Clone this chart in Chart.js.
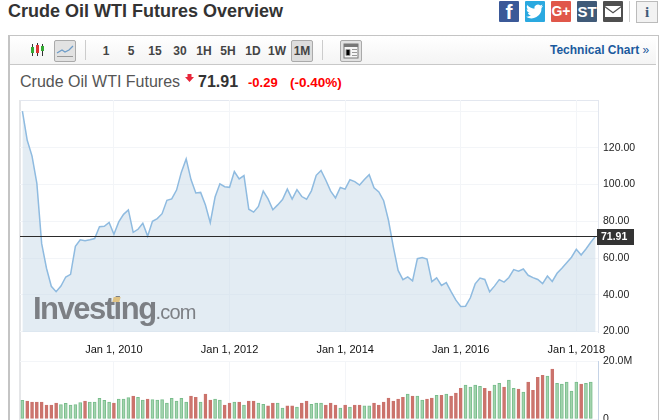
<!DOCTYPE html>
<html>
<head>
<meta charset="utf-8">
<script src="https://cdn.jsdelivr.net/npm/chart.js@4"></script>
<style>
html,body{margin:0;padding:0;background:#fff;width:665px;height:420px;overflow:hidden;font-family:"Liberation Sans",Arial,sans-serif}
.abs,canvas{position:absolute}
.soc{position:absolute;top:1px;width:20px;height:21px;color:#fff;font-weight:bold;text-align:center;line-height:21px;border-radius:1px}
.tf{position:absolute;top:44px;width:24px;text-align:center;font:bold 12px "Liberation Sans";color:#444;line-height:14px}
.btn{position:absolute;top:40px;width:20px;height:20px;border:1px solid #aaa;border-radius:2px;background:#e2e2e2}
</style>
</head>
<body>
<div class="abs" style="left:8px;top:1px;font:bold 18px 'Liberation Sans';color:#333;line-height:20px;white-space:nowrap">Crude Oil WTI Futures Overview</div>

<div class="soc" style="left:499px;background:#3b5998;font-size:21px">f</div>
<div class="soc" style="left:525px;background:#2aa9e0">
  <svg width="20" height="21" viewBox="0 0 20 21"><path fill="#fff" d="M18 5c-.7.3-1.300.5-2 .6.700-.5 1.300-1.100 1.500-2-.7.4-1.400.700-2.200.9A3.500 3.500 0 0 0 9.400 7.700C6.500 7.500 4 6.100 2.300 4c-1 1.600-.5 3.600 1 4.700-.6 0-1.100-.2-1.600-.4 0 1.700 1.200 3.100 2.800 3.500-.5.100-1 .2-1.600.1.400 1.400 1.700 2.400 3.200 2.400A7 7 0 0 1 1 15.700 10 10 0 0 0 16.500 7c.6-.5 1.100-1.200 1.500-2z"/></svg>
</div>
<div class="soc" style="left:551px;background:#e0574a;font-size:14px">G+</div>
<div class="soc" style="left:577px;background:#405a78;font-size:15px">ST</div>
<div class="soc" style="left:603px;background:#4f4f4f">
  <svg width="20" height="21" viewBox="0 0 20 21"><path fill="#fff" d="M2 5h16L10 11z"/><path fill="#fff" d="M2 6.500V16h16V6.500l-8 6z"/></svg>
</div>
<div class="abs" style="left:629px;top:1px;width:1px;height:21px;background:#ccc"></div>
<div class="abs" style="left:636px;top:1px;width:20px;height:20px;border:1px solid #bbb;background:#f2f2f2;text-align:center;font:bold 15px/20px 'Liberation Serif';color:#405a78">i</div>

<div class="abs" style="left:8px;top:35px;width:648px;height:400px;border:1px solid #c4c4c4;border-left-width:2px"></div>
<div class="abs" style="left:10px;top:36px;width:646px;height:28px;background:linear-gradient(#fff,#f4f4f4);border-bottom:1px solid #c8c8c8"></div>

<svg class="abs" style="left:30px;top:43px" width="16" height="14">
  <path stroke="#333" d="M2.500 1v12M7.500 0v13M12.500 1v12"/>
  <rect x="1" y="4" width="3" height="6" fill="#3a3"/><rect x="6" y="2" width="3" height="8" fill="#d33"/><rect x="11" y="3" width="3" height="5" fill="#3a3"/>
</svg>
<div class="btn" style="left:54px">
  <svg width="20" height="20"><path fill="none" stroke="#6d9cc8" stroke-width="1.300" d="M2 12l5-3 3 2 4-2 4-4"/><path stroke="#999" d="M2 15.500h16"/></svg>
</div>
<div class="abs" style="left:85px;top:40px;width:1px;height:20px;background:#ccc"></div>
<div class="tf" style="left:94px">1</div>
<div class="tf" style="left:119px">5</div>
<div class="tf" style="left:143px">15</div>
<div class="tf" style="left:168px">30</div>
<div class="tf" style="left:192px">1H</div>
<div class="tf" style="left:216px">5H</div>
<div class="tf" style="left:241px">1D</div>
<div class="tf" style="left:265px">1W</div>
<div class="btn" style="left:291px;background:#ddd"></div>
<div class="tf" style="left:290px">1M</div>
<div class="abs" style="left:322px;top:40px;width:1px;height:20px;background:#ccc"></div>
<div class="btn" style="left:340px">
  <svg width="20" height="20"><rect x="3" y="3" width="14" height="14" fill="#f6f6f6" stroke="#777"/><path fill="#777" d="M3 3h14v3H3z"/><path stroke="#999" d="M5 8.500h4v6H5zM11 8.500h5M11 11.500h5M11 14.500h5"/></svg>
</div>
<div class="abs" style="left:550px;top:43px;font:bold 12px/14px 'Liberation Sans';color:#1b5a9e;white-space:nowrap">Technical Chart <span style="font-weight:normal">»</span></div>

<div class="abs" style="left:20px;top:73px;font:16px/18px 'Liberation Sans';color:#555;white-space:nowrap">Crude Oil WTI Futures</div>
<svg class="abs" style="left:185px;top:74px" width="9" height="8"><path fill="#e8263a" d="M2.500 0h4v3H9L4.500 8 0 3h2.500z"/></svg>
<div class="abs" style="left:198px;top:73px;font:bold 16px/18px 'Liberation Sans';color:#333">71.91</div>
<div class="abs" style="left:248px;top:75px;font:bold 13px/16px 'Liberation Sans';color:#f00">-0.29</div>
<div class="abs" style="left:290px;top:75px;font:bold 13.500px/16px 'Liberation Sans';color:#f00">(-0.40%)</div>

<div class="abs" style="left:19px;top:100px;width:2px;height:320px;background:#e5e6e8"></div>
<div class="abs" style="left:20px;top:100px;width:578px;height:1px;background:#e3e7ef"></div>

<canvas id="priceChart" width="665" height="270" style="left:0;top:90px"></canvas>
<canvas id="volumeChart" width="665" height="70" style="left:0;top:350px"></canvas>

<div class="abs" style="left:33px;top:291px;font:bold 31px/36px 'Liberation Sans';letter-spacing:-1.500px;color:#7c7f84;white-space:nowrap">Investing<span style="font:20px 'Liberation Sans';letter-spacing:-.8px">.com</span></div>
<div class="abs" style="left:113px;top:297px;width:7px;height:5px;background:#dfc283;transform:skewX(-15deg)"></div>

<script>
// monthly closes, Jun 2008 to May 2018
const prices = [
    140.0,124.08,115.46,100.64,67.81,54.43,44.6,
    41.68,44.76,49.66,51.12,66.31,69.89,69.45,69.96,70.61,77.0,77.28,79.36,
    72.89,79.66,83.76,86.15,73.97,75.63,78.95,71.92,79.97,81.43,84.11,91.38,
    92.19,96.97,106.72,113.93,102.7,95.42,95.7,88.81,79.2,93.19,100.36,98.83,
    98.48,107.07,103.02,104.87,86.53,84.96,88.06,96.47,92.19,86.24,88.91,91.82,
    97.49,92.05,97.23,93.46,91.97,96.56,105.03,107.65,102.33,96.38,92.72,98.42,
    97.49,102.59,101.58,99.74,102.71,105.37,98.17,95.96,91.16,80.54,66.15,53.27,
    48.24,49.76,47.6,59.63,60.3,59.47,47.12,49.2,45.09,46.59,41.65,37.04,
    33.62,33.75,38.34,45.92,49.1,48.33,41.6,44.7,48.24,46.86,49.44,53.72,
    52.81,54.01,50.6,49.33,48.32,46.04,50.17,47.23,51.67,54.38,57.4,60.42,
    64.73,61.64,64.94,68.57,71.91
];
// volume in millions
const volumes = [
    6.4,6.2,5.8,5.8,5.8,4.8,4.8,5.5,5.0,5.4,4.8,5.0,5.7,6.2,5.8,5.8,7.1,6.4,5.8,5.5,6.9,6.9,7.4,7.9,7.5,6.5,6.9,
    6.7,6.5,6.7,5.5,7.1,6.2,7.1,5.8,7.9,7.5,5.8,8.6,6.5,6.9,6.5,4.8,5.5,5.8,5.8,4.8,6.2,6.2,5.5,5.1,4.5,5.5,5.5,3.8,4.5,4.5,4.1,
    5.5,6.2,5.1,5.5,5.5,4.8,5.5,4.8,3.8,4.8,4.1,4.8,4.8,4.5,4.5,5.5,4.8,5.8,7.2,6.2,6.9,7.5,8.6,7.9,7.9,6.5,6.9,7.2,8.2,8.2,8.6,
    7.9,8.9,10.6,11.7,11.0,11.7,11.3,10.6,9.6,11.7,12.3,11.0,13.4,10.6,10.3,9.3,12.7,9.9,14.4,15.1,14.8,17.2,12.3,12.0,12.7,9.6,12.7,12.0,12.3,12.7,
    null
];
const volumeUp = [
    1,0,0,0,0,0,0,0,1,1,1,1,1,0,1,1,1,1,1,0,1,1,1,0,1,1,0,
    1,1,1,1,1,1,1,1,0,0,1,0,0,1,1,0,0,1,0,1,0,0,1,1,0,0,1,1,0,0,1,
    0,0,1,1,1,0,0,0,1,0,1,0,0,1,1,0,0,0,0,0,0,0,1,0,1,1,0,0,1,0,1,
    0,0,0,1,1,1,1,0,0,1,1,0,1,1,0,1,0,0,0,0,1,0,1,1,1,1,1,0,1,1,
    0
];
const lastPrice = 71.91;
const priceTicks = [20,40,60,80,100,120,140];
const priceTickLabels = ["20.00","40.00","60.00","80.00","100.00","120.00",""];
const volumeTicks = [0,20];
const volumeTickLabels = ["0","20.0M"];
const dateTicks = ["Jan 1, 2010","Jan 1, 2012","Jan 1, 2014","Jan 1, 2016","Jan 1, 2018"];

const monthNames = ["Jan","Feb","Mar","Apr","May","Jun","Jul","Aug","Sep","Oct","Nov","Dec"];
const months = prices.map(function(p,i){
    const m = i+5;
    return monthNames[m%12]+" 1, "+(2008+Math.floor(m/12));
});

const gridColor = "#f3f5f8";
const fontDate = {family:"'Liberation Sans'",size:11};
const fontAxis = {family:"'Liberation Sans'",size:10.5};

// current price line and its tag on the axis
const lastPriceTag = {
    id:"lastPriceTag",
    afterDatasetsDraw(chart){
        const y = Math.round(chart.scales.y.getPixelForValue(lastPrice))+.5;
        const a = chart.chartArea, c = chart.ctx;
        c.save();
        c.strokeStyle = "#2b2b2b";
        c.lineWidth = 1;
        c.beginPath();
        c.moveTo(a.left,y);
        c.lineTo(a.right,y);
        c.stroke();
        c.fillStyle = "#333";
        c.fillRect(a.right-1,y-7.5,37,16);
        c.fillStyle = "#fff";
        c.font = "bold 10.5px 'Liberation Sans'";
        c.textBaseline = "middle";
        c.fillText(lastPrice.toFixed(2),a.right+3,y+.5);
        c.restore();
    }
};

function xAxis(showLabels){
    return {
        offset:true,
        grid:{color:gridColor,drawTicks:false,offset:false},
        border:{display:false},
        afterBuildTicks(s){
            s.ticks = s.ticks.filter(function(t){return dateTicks.indexOf(months[t.value])>=0 && months[t.value]!==months[t.value-1]});
        },
        afterFit(s){s.height = showLabels?28:0},
        ticks:{
            display:showLabels,
            autoSkip:false,
            maxRotation:0,
            padding:11,
            color:"#111",
            font:fontDate,
            callback(v){return months[v]}
        }
    };
}

new Chart(document.getElementById("priceChart"),{
    type:"line",
    plugins:[lastPriceTag],
    data:{
        labels:months,
        datasets:[{
            data:prices,
            borderColor:"#8fbbe0",
            borderWidth:1.5,
            backgroundColor:"rgba(199,218,232,.5)",
            fill:"start",
            pointRadius:0,
            tension:0
        }]
    },
    options:{
        responsive:false,
        animation:false,
        layout:{padding:{left:20,top:10,right:0,bottom:0}},
        plugins:{legend:{display:false},tooltip:{enabled:false}},
        scales:{
            x:xAxis(true),
            y:{
                position:"right",
                min:19.73,
                max:146,
                grid:{color:gridColor,drawTicks:false},
                border:{color:"#e3e7ef"},
                afterBuildTicks(s){s.ticks = priceTicks.map(function(v){return {value:v}})},
                afterFit(s){s.width = 67;s.paddingTop = 0;s.paddingBottom = 0},
                ticks:{
                    padding:5,
                    color:"#222",
                    font:fontAxis,
                    callback(v,i){return priceTickLabels[i]}
                }
            }
        }
    }
});

new Chart(document.getElementById("volumeChart"),{
    type:"bar",
    data:{
        labels:months,
        datasets:[{
            data:volumes,
            barThickness:3,
            borderWidth:1,
            borderSkipped:false,
            backgroundColor:volumeUp.map(function(u){return u?"#a3d3ae":"#cb736c"}),
            borderColor:volumeUp.map(function(u){return u?"#78bd8b":"#cb736c"})
        }]
    },
    options:{
        responsive:false,
        animation:false,
        layout:{padding:{left:20,top:11,right:0,bottom:1}},
        plugins:{legend:{display:false},tooltip:{enabled:false}},
        scales:{
            x:xAxis(false),
            y:{
                position:"right",
                min:0,
                max:20,
                grid:{color:gridColor,drawTicks:false},
                border:{color:"#c5d3e6"},
                afterBuildTicks(s){s.ticks = volumeTicks.map(function(v){return {value:v}})},
                afterFit(s){s.width = 67;s.paddingTop = 0;s.paddingBottom = 0},
                ticks:{
                    padding:5,
                    color:"#222",
                    font:fontAxis,
                    callback(v,i){return volumeTickLabels[i]}
                }
            }
        }
    }
});
</script>
</body>
</html>
